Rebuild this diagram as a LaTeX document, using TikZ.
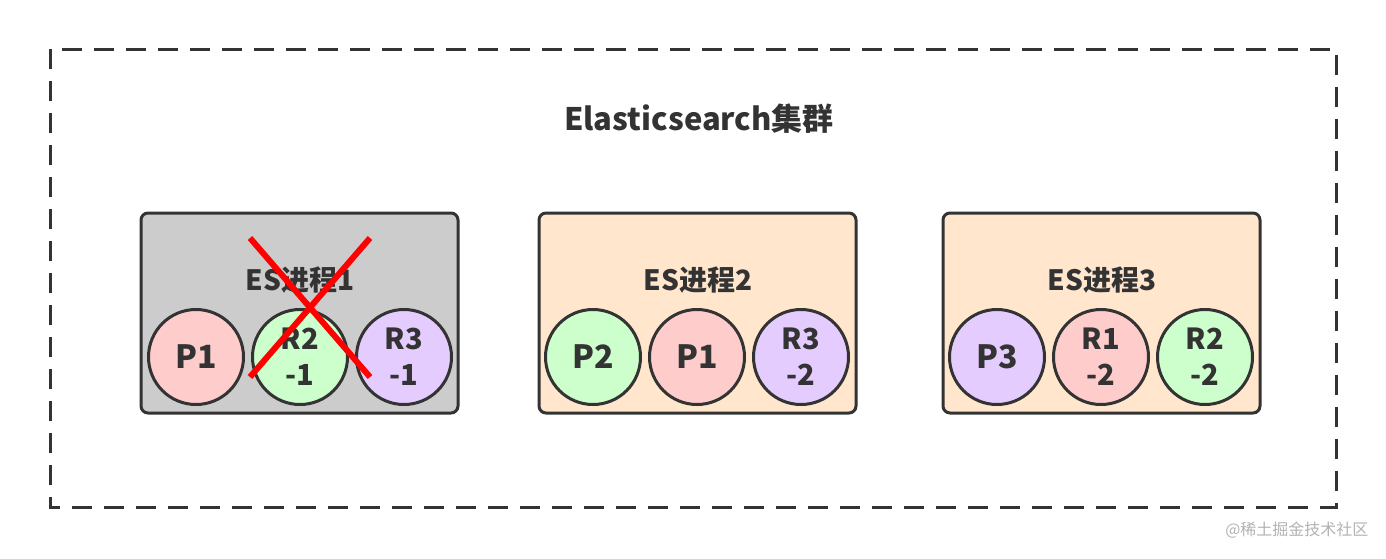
\documentclass[tikz,border=0pt]{standalone}
\usepackage{fontspec}
\setmainfont{Noto Sans CJK SC}
\usetikzlibrary{positioning}

\definecolor{ink}{HTML}{333333}
\definecolor{greybox}{HTML}{CCCCCC}
\definecolor{peach}{HTML}{FFE6CC}
\definecolor{pinkfill}{HTML}{FFCCCC}
\definecolor{greenfill}{HTML}{CCFFCC}
\definecolor{lilac}{HTML}{E5CCFF}

\begin{document}
\begin{tikzpicture}[x=1pt, y=-1pt,
  proc/.style={draw=ink, line width=3pt, rounded corners=7pt},
  shard/.style={draw=ink, line width=3pt, circle, minimum size=95pt, inner sep=0pt,
    align=center, text=ink, font=\bfseries\fontsize{32}{32}\selectfont},
  rshard/.style={shard, font=\bfseries\fontsize{29}{36}\selectfont},
  lbl/.style={text=ink, font=\bfseries\fontsize{28}{30}\selectfont},
  node distance=6pt
]
\useasboundingbox (0,0) rectangle (1386,558);
% cluster
\draw[ink, line width=3pt, dash pattern=on 20pt off 12pt] (50,49) rectangle (1336,507);
\node[text=ink, font=\bfseries\fontsize{31}{32}\selectfont] (title) at (699,119) {Elasticsearch集群};

% ES process boxes
\draw[proc, fill=greybox] (141,213) rectangle (458,413);
\draw[proc, fill=peach] (539,213) rectangle (856,413);
\draw[proc, fill=peach] (943,213) rectangle (1260,413);
\node[lbl] (es1) at (300,280) {ES进程1};
\node[lbl] (es2) at (698,280) {ES进程2};
\node[lbl] (es3) at (1102,280) {ES进程3};

% shards
\node[shard, fill=pinkfill] (a1) at (196,357) {P1};
\node[rshard, fill=greenfill, right=of a1] (a2) {R2\\-1};
\node[rshard, fill=lilac, right=of a2] (a3) {R3\\-1};

\node[shard, fill=greenfill] (b1) at (593,357) {P2};
\node[shard, fill=pinkfill, right=of b1] (b2) {P1};
\node[rshard, fill=lilac, right=of b2] (b3) {R3\\-2};

\node[shard, fill=lilac] (c1) at (997,357) {P3};
\node[rshard, fill=pinkfill, right=of c1] (c2) {R1\\-2};
\node[rshard, fill=greenfill, right=of c2] (c3) {R2\\-2};

% node 1 is down
\coordinate (xa) at (250,238);
\coordinate (xb) at (370,377);
\coordinate (xc) at (370,238);
\coordinate (xd) at (250,377);
\draw[red, line width=6pt] (xa) -- (xb);
\draw[red, line width=6pt] (xc) -- (xd);

\node[text=black!30, font=\fontsize{16}{18}\selectfont, anchor=east] (mark) at (1372,530) {@稀土掘金技术社区};
\end{tikzpicture}
\end{document}
